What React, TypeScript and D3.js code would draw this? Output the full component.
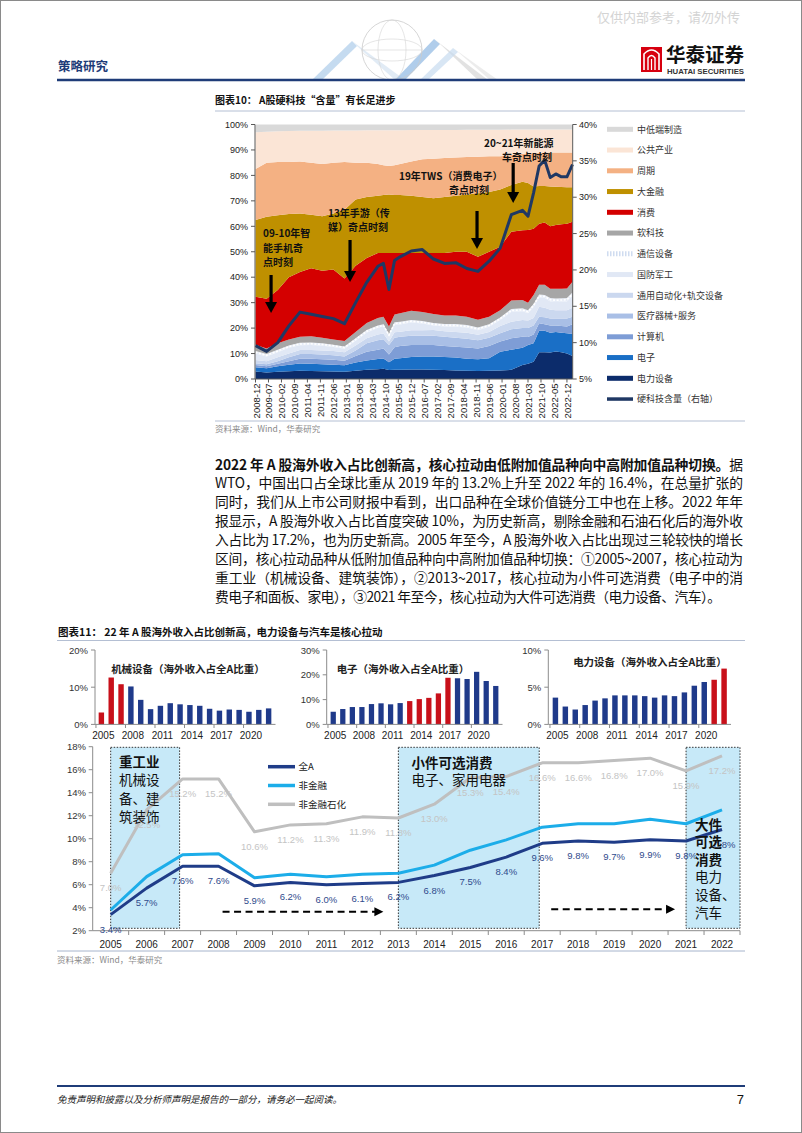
import React from "react";
import * as d3 from "d3";

const LATIN = "'Liberation Sans', Arial, 'Noto Sans CJK SC', sans-serif";
const CJK = "'Noto Sans CJK SC', 'Liberation Sans', sans-serif";

// ================= 图表10 data =================
const sampleMonths = [
  "2008-12", "2009-06", "2009-12", "2010-06", "2010-12", "2011-06", "2011-12", "2012-06", "2012-12",
  "2013-06", "2013-12", "2014-06", "2014-09", "2014-12", "2015-03", "2015-06", "2015-12", "2016-06",
  "2016-12", "2017-06", "2017-12", "2018-06", "2018-12", "2019-06", "2019-12", "2020-06", "2020-12",
  "2021-03", "2021-06", "2021-09", "2021-12", "2022-03", "2022-06", "2022-09", "2022-12", "2023-03",
];
const topTickLabels = [
  "2008-12", "2009-07", "2010-02", "2010-09", "2011-04", "2011-11", "2012-06", "2013-01", "2013-08",
  "2014-03", "2014-10", "2015-05", "2015-12", "2016-07", "2017-02", "2017-09", "2018-04", "2018-11",
  "2019-06", "2020-01", "2020-08", "2021-03", "2021-10", "2022-05", "2022-12",
];
const leftTicks = [0, 10, 20, 30, 40, 50, 60, 70, 80, 90, 100];
const rightTicks = [5, 10, 15, 20, 25, 30, 35, 40];

const powerEquip = [2.9, 2.6, 2.8, 3.0, 3.2, 3.1, 3.0, 2.9, 2.8, 3.2, 3.6, 3.8, 4.0, 3.5, 3.6, 3.6, 3.7, 3.7, 3.6, 3.5, 3.3, 3.2, 3.1, 3.2, 3.3, 3.6, 5.5, 6.0, 6.8, 10.5, 10.5, 10.4, 10.8, 10.5, 10.0, 9.0];
const electronics = [1.7, 1.6, 2.2, 2.6, 2.9, 2.9, 2.8, 2.7, 2.6, 3.3, 3.7, 4.1, 4.1, 3.1, 4.4, 4.6, 4.9, 5.1, 5.2, 5.1, 5.1, 4.8, 4.7, 5.0, 7.4, 7.9, 6.8, 7.4, 7.2, 8.5, 8.5, 7.8, 7.7, 7.7, 8.0, 8.7];
const computer = [0.9, 0.8, 1.0, 1.4, 1.9, 2.0, 2.0, 2.0, 1.8, 2.5, 3.4, 3.6, 3.9, 3.0, 4.5, 4.8, 4.8, 4.6, 4.6, 4.4, 4.3, 4.4, 4.2, 4.8, 4.0, 4.5, 4.3, 3.1, 3.5, 2.9, 2.5, 2.8, 2.5, 2.6, 2.6, 3.8];
const medical = [0.7, 0.8, 1.0, 1.5, 1.8, 1.8, 1.8, 1.7, 1.6, 2.2, 3.3, 3.7, 3.6, 3.8, 3.7, 3.6, 3.6, 3.6, 3.6, 3.6, 3.5, 3.4, 3.2, 3.2, 3.3, 3.5, 3.4, 3.5, 3.5, 2.6, 2.8, 2.8, 2.8, 3.0, 3.2, 3.0];
const automation = [1.3, 1.2, 1.5, 1.5, 1.6, 1.6, 1.6, 1.7, 1.7, 2.0, 2.0, 2.3, 2.3, 1.3, 2.2, 2.0, 2.2, 2.2, 2.3, 2.2, 2.3, 2.4, 2.2, 2.3, 2.8, 3.0, 3.2, 3.0, 3.0, 3.9, 3.7, 3.4, 3.2, 3.2, 3.2, 3.5];
const defense = [2.5, 1.8, 2.0, 2.3, 1.9, 2.0, 1.9, 1.6, 1.4, 1.8, 2.2, 2.6, 2.7, 2.1, 2.9, 2.8, 3.0, 2.6, 1.7, 1.8, 2.0, 2.0, 1.8, 2.0, 2.4, 3.8, 3.4, 2.8, 4.3, 3.6, 3.8, 3.3, 3.3, 3.4, 3.5, 4.7];
const telecom = [1.0, 1.0, 1.0, 0.9, 0.9, 0.9, 0.9, 0.9, 0.9, 1.0, 1.1, 0.9, 0.9, 0.9, 1.0, 1.1, 1.0, 1.0, 1.0, 1.0, 1.1, 1.0, 1.0, 1.0, 1.0, 1.2, 1.2, 1.2, 1.2, 1.2, 1.2, 1.3, 1.3, 1.3, 1.3, 1.3];
const software = [2.5, 2.2, 2.5, 2.3, 2.4, 2.5, 2.2, 2.0, 2.1, 2.5, 2.7, 3.0, 3.0, 2.9, 3.0, 3.3, 3.6, 3.5, 3.5, 3.4, 3.4, 3.3, 3.1, 3.0, 2.8, 3.3, 3.2, 3.0, 3.5, 3.8, 4.0, 3.7, 3.9, 3.8, 3.8, 4.2];
const consumer = [18.8, 19.5, 21.0, 24.5, 25.4, 26.7, 26.3, 27.5, 24.6, 26.0, 25.5, 25.5, 25.0, 28.9, 24.2, 23.7, 22.7, 23.2, 24.0, 24.5, 25.0, 25.5, 24.7, 25.5, 25.0, 27.1, 27.4, 28.5, 26.0, 24.0, 24.5, 24.5, 25.0, 25.3, 25.4, 23.6];
const finance = [30.2, 32.3, 29.3, 24.8, 23.0, 21.0, 21.4, 22.0, 27.0, 26.0, 24.0, 22.5, 22.8, 23.0, 22.8, 22.8, 22.5, 22.0, 21.5, 22.0, 22.0, 22.5, 25.0, 23.5, 22.5, 18.3, 19.1, 18.5, 16.6, 14.8, 14.3, 15.6, 15.0, 14.6, 14.3, 13.5];
const cyclical = [20.0, 21.2, 21.0, 20.5, 20.5, 20.5, 20.6, 20.0, 18.8, 14.5, 13.5, 12.5, 11.7, 11.2, 11.7, 12.2, 13.5, 14.8, 15.5, 15.3, 15.0, 14.7, 14.3, 14.0, 13.0, 11.8, 11.0, 11.6, 13.1, 13.1, 13.2, 13.4, 13.5, 13.6, 13.7, 13.7];
const utilities = [14.5, 12.2, 12.0, 12.1, 12.0, 12.5, 13.0, 12.6, 12.3, 12.6, 12.7, 13.2, 13.7, 14.0, 13.7, 13.2, 12.3, 11.5, 11.3, 11.0, 10.8, 10.7, 10.6, 10.4, 10.4, 10.0, 9.5, 9.4, 9.3, 9.1, 9.0, 9.0, 9.0, 9.0, 9.0, 9.0];
const lowEndMfg = [3.0, 2.8, 2.7, 2.6, 2.5, 2.5, 2.5, 2.4, 2.4, 2.4, 2.3, 2.3, 2.3, 2.3, 2.3, 2.3, 2.2, 2.2, 2.2, 2.2, 2.2, 2.1, 2.1, 2.1, 2.1, 2.0, 2.0, 2.0, 2.0, 2.0, 2.0, 2.0, 2.0, 2.0, 2.0, 2.0];
const hardTechShare = [9.6, 8.8, 10.0, 12.3, 14.2, 13.9, 13.6, 13.3, 12.6, 15.5, 18.3, 20.5, 20.9, 17.3, 21.3, 21.8, 22.6, 22.8, 21.5, 20.9, 21.0, 20.2, 19.8, 21.2, 23.0, 27.6, 28.2, 27.4, 30.6, 34.3, 35.1, 32.7, 33.2, 32.8, 32.8, 34.5];

const sectorSeries = [
  { name: "电力设备", color: "#0c2c6b", values: powerEquip },
  { name: "电子", color: "#1a6fc6", values: electronics },
  { name: "计算机", color: "#7e9dd6", values: computer },
  { name: "医疗器械+服务", color: "#a9bfe6", values: medical },
  { name: "通用自动化+轨交设备", color: "#cbd8ef", values: automation },
  { name: "国防军工", color: "#e1e8f5", values: defense },
  { name: "通信设备", color: "#e6ecf7", values: telecom },
  { name: "软科技", color: "#a6a6a6", values: software },
  { name: "消费", color: "#d40000", values: consumer },
  { name: "大金融", color: "#bf9000", values: finance },
  { name: "周期", color: "#f4b183", values: cyclical },
  { name: "公共产业", color: "#fbe5d6", values: utilities },
  { name: "中低端制造", color: "#d9d9d9", values: lowEndMfg },
];

// ================= 图表11 data =================
const years = ["2005", "2006", "2007", "2008", "2009", "2010", "2011", "2012", "2013", "2014", "2015", "2016", "2017", "2018", "2019", "2020", "2021", "2022"];
const smallTickYears = ["2005", "2008", "2011", "2014", "2017", "2020"];
const machineryShare = [3.2, 12.6, 10.8, 10.2, 6.6, 4.1, 5.0, 5.7, 5.4, 5.2, 5.0, 4.2, 3.7, 4.0, 3.9, 3.4, 3.9, 4.3];
const machineryRed = ["2005", "2006", "2007"];
const electronicsShare = [5.1, 6.2, 7.0, 7.0, 8.2, 8.5, 8.1, 8.6, 9.4, 10.2, 10.7, 12.5, 18.8, 18.6, 18.3, 21.2, 17.5, 15.5];
const electronicsRed = ["2013", "2014", "2015", "2016", "2017"];
const powerShare = [3.6, 2.4, 2.0, 2.6, 3.2, 3.5, 3.9, 3.9, 3.9, 3.8, 3.6, 3.9, 3.8, 4.3, 5.2, 5.7, 6.0, 7.5];
const powerRed = ["2021", "2022"];

const allA = [3.4, 5.7, 7.6, 7.6, 5.9, 6.2, 6.0, 6.1, 6.2, 6.8, 7.5, 8.4, 9.6, 9.8, 9.7, 9.9, 9.8, 10.8];
const nonFinancial = [3.8, 6.7, 8.6, 8.7, 6.6, 6.9, 6.7, 6.9, 7.0, 7.7, 9.0, 9.9, 11.0, 11.3, 11.3, 11.7, 11.3, 12.5];
const nonFinPetro = [7.0, 12.5, 15.2, 15.2, 10.6, 11.2, 11.3, 11.9, 11.8, 13.0, 15.3, 15.4, 16.6, 16.6, 16.8, 17.0, 15.9, 17.2];
const bottomTicks = [2, 4, 6, 8, 10, 12, 14, 16, 18];

const paragraphLines = [
  "WTO，中国出口占全球比重从 2019 年的 13.2%上升至 2022 年的 16.4%，在总量扩张的",
  "同时，我们从上市公司财报中看到，出口品种在全球价值链分工中也在上移。2022 年年",
  "报显示，A 股海外收入占比首度突破 10%，为历史新高，剔除金融和石油石化后的海外收",
  "入占比为 17.2%，也为历史新高。2005 年至今，A 股海外收入占比出现过三轮较快的增长",
  "区间，核心拉动品种从低附加值品种向中高附加值品种切换：①2005~2007，核心拉动为",
  "重工业（机械设备、建筑装饰），②2013~2017，核心拉动为小件可选消费（电子中的消",
  "费电子和面板、家电），③2021 年至今，核心拉动为大件可选消费（电力设备、汽车）。",
];

const monthIndex = (s: string) => {
  const [y, m] = s.split("-").map(Number);
  return (y - 2008) * 12 + (m - 12);
};

function DownArrow({ x, y1, y2 }: { x: number; y1: number; y2: number }) {
  return (
    <g>
      <line x1={x} y1={y1} x2={x} y2={y2 - 9} stroke="#000" strokeWidth={3.2} />
      <path d={`M${x - 6},${y2 - 11}L${x + 6},${y2 - 11}L${x},${y2}Z`} fill="#000" />
    </g>
  );
}

function SmallBars(props: {
  left: number; right: number; axisX: number; values: number[]; max: number; ticks: number[];
  red: string[]; title: string; titleX: number; titleY: number;
}) {
  const { left, right, axisX, values, max, ticks, red, title, titleX, titleY } = props;
  const x = d3.scaleBand<string>().domain(years).range([left, right]).paddingInner(0.45).paddingOuter(0.22);
  const y = d3.scaleLinear().domain([0, max]).range([724.4, 650]);
  const step = x.step();
  return (
    <g>
      {values.map((v, i) => (
        <rect key={i} x={x(years[i])!} y={y(v)} width={x.bandwidth()} height={y(0) - y(v)}
          fill={red.includes(years[i]) ? "#c8101a" : "#1f3a8a"} />
      ))}
      <line x1={axisX} y1={650} x2={axisX} y2={724.4} stroke="#8c8c8c" strokeWidth={1} />
      <line x1={axisX} y1={724.4} x2={right + 2} y2={724.4} stroke="#8c8c8c" strokeWidth={1} />
      {ticks.map((t) => (
        <g key={t}>
          <line x1={axisX - 4} x2={axisX} y1={y(t)} y2={y(t)} stroke="#8c8c8c" />
          <text x={axisX - 7} y={y(t) + 3.5} textAnchor="end" fontSize={9.5} fontFamily={LATIN} fill="#333">{t}%</text>
        </g>
      ))}
      {smallTickYears.map((yr) => (
        <g key={yr}>
          <line x1={x(yr)! - step * 0.275} x2={x(yr)! - step * 0.275} y1={724.4} y2={728} stroke="#8c8c8c" />
          <text x={x(yr)! + x.bandwidth() / 2 + 2} y={738.5} textAnchor="middle" fontSize={10} fontFamily={LATIN} fill="#222">{yr}</text>
        </g>
      ))}
      <text x={titleX} y={titleY} textAnchor="middle" fontSize={10.5} fontWeight={700} fontFamily={CJK} fill="#222">{title}</text>
    </g>
  );
}

export default function App() {
  // ---------- chart 10 ----------
  const xTop = d3.scaleLinear().domain([0, 171]).range([255.5, 572.5]);
  const yTop = d3.scaleLinear().domain([0, 100]).range([379, 124.5]);
  const yTopR = d3.scaleLinear().domain([5, 40]).range([379, 124.5]);
  const rows = sampleMonths.map((m, i) => {
    const r: any = { idx: monthIndex(m) };
    sectorSeries.forEach((s) => (r[s.name] = s.values[i]));
    return r;
  });
  const stacked = d3.stack<any>().keys(sectorSeries.map((s) => s.name))(rows);
  const area = d3.area<any>().x((d) => xTop(d.data.idx)).y0((d) => yTop(d[0])).y1((d) => yTop(d[1]));
  const midLine = d3.line<any>().x((d) => xTop(d.data.idx)).y((d) => yTop((d[0] + d[1]) / 2));
  const hardLine = d3.line<number>().x((_, i) => xTop(monthIndex(sampleMonths[i]))).y((d) => yTopR(d));
  const telecomLayer = stacked[sectorSeries.findIndex((s) => s.name === "通信设备")];

  const legendItems = [...sectorSeries].reverse();

  // ---------- chart 11 bottom ----------
  const xB = d3.scaleBand<string>().domain(years).range([92.7, 740]);
  const cx = (yr: string) => xB(yr)! + xB.bandwidth() / 2;
  const yB = d3.scaleLinear().domain([2, 18]).range([930.7, 746.7]);
  const bLine = d3.line<number>().x((_, i) => cx(years[i])).y((d) => yB(d));
  const boxes = [
    { from: "2005", to: "2007" },
    { from: "2013", to: "2017" },
    { from: "2021", to: "" },
  ];
  const boxX = (b: { from: string; to: string }) => [cx(b.from), b.to ? cx(b.to) - 3 : 740];

  return (
    <div style={{ position: "absolute", left: 0, top: 0 }}>
      <svg width={802} height={1133} style={{ display: "block", background: "#fff" }}>
        <rect x={0.5} y={0.5} width={801} height={1132} fill="#fff" stroke="#8a8a8a" />

        {/* ===== header ===== */}
        <text x={740} y={22} textAnchor="end" fontSize={13} fontFamily={CJK} fill="#d4d4d4">仅供内部参考，请勿外传</text>
        <g>
          <polygon points="312,80 322,80 357,46 352,41" fill="#b7d2ec" opacity={0.8} />
          <polygon points="352,41 357,46 395,80 405,80" fill="#d9e6f3" opacity={0.8} />
          <polygon points="395,80 405,80 440,44 434,39" fill="#9cc1e6" opacity={0.8} />
          <polygon points="434,39 440,44 478,80 488,80" fill="#cfcfcf" opacity={0.6} />
          <polygon points="420,80 428,80 458,52 453,48" fill="#c7dcf0" opacity={0.7} />
          <polygon points="453,48 458,52 490,80 498,80" fill="#e0e0e0" opacity={0.6} />
          <circle cx={392} cy={50} r={30} fill="none" stroke="#cacaca" strokeWidth={0.8} />
          <ellipse cx={392} cy={50} rx={14} ry={30} fill="none" stroke="#d4d4d4" strokeWidth={0.6} />
          <ellipse cx={392} cy={50} rx={30} ry={11} fill="none" stroke="#d4d4d4" strokeWidth={0.6} />
          <line x1={362} y1={50} x2={422} y2={50} stroke="#d4d4d4" strokeWidth={0.6} />
        </g>
        <text x={58} y={71} fontSize={12.5} fontWeight={700} fontFamily={CJK} fill="#1f3c78">策略研究</text>
        <g>
          <rect x={641} y={47} width={21} height={25} fill="#d7000f" />
          <path d="M644,70 L644,54 Q651.5,46 659,54 L659,70" fill="none" stroke="#fff" strokeWidth={1.6} />
          <path d="M648,70 L648,58 Q651.5,53 655,58 L655,70" fill="none" stroke="#fff" strokeWidth={1.4} />
          <line x1={651.5} y1={59} x2={651.5} y2={70} stroke="#fff" strokeWidth={1.2} />
          <text x={666} y={62} fontSize={19.5} fontWeight={700} fontFamily={CJK} fill="#111">华泰证券</text>
          <text x={667} y={73.5} fontSize={7} fontWeight={700} fontFamily={LATIN} fill="#333" textLength={77} lengthAdjust="spacingAndGlyphs">HUATAI SECURITIES</text>
        </g>
        <line x1={57} y1={80} x2={745} y2={80} stroke="#1f3c78" strokeWidth={2.5} />

        {/* ===== 图表10 ===== */}
        <text x={215} y={104} fontSize={10} fontWeight={700} fontFamily={CJK} fill="#111">图表10：  A股硬科技“含量”有长足进步</text>
        <line x1={215} y1={111} x2={745} y2={111} stroke="#b4bfd3" strokeWidth={1} />

        {stacked.map((layer, i) => (
          <path key={i} d={area(layer) || ""} fill={sectorSeries[i].color} />
        ))}
        <path d={midLine(telecomLayer) || ""} fill="none" stroke="#fff" strokeWidth={1.6} strokeDasharray="2,1.6" />
        <path d={hardLine(hardTechShare) || ""} fill="none" stroke="#1f3864" strokeWidth={3} strokeLinejoin="round" />

        {/* axes */}
        <line x1={255} y1={124.5} x2={255} y2={379} stroke="#595959" />
        <line x1={572.7} y1={124.5} x2={572.7} y2={379} stroke="#595959" />
        <line x1={255} y1={379} x2={572.7} y2={379} stroke="#595959" />
        {leftTicks.map((t) => (
          <g key={t}>
            <line x1={251} x2={255} y1={yTop(t)} y2={yTop(t)} stroke="#595959" />
            <text x={248} y={yTop(t) + 3.2} textAnchor="end" fontSize={9} fontFamily={LATIN} fill="#222">{t}%</text>
          </g>
        ))}
        {rightTicks.map((t) => (
          <g key={t}>
            <line x1={572.7} x2={576.7} y1={yTopR(t)} y2={yTopR(t)} stroke="#595959" />
            <text x={579} y={yTopR(t) + 3.2} fontSize={9} fontFamily={LATIN} fill="#222">{t}%</text>
          </g>
        ))}
        {topTickLabels.map((lab) => {
          const x = xTop(monthIndex(lab));
          return (
            <g key={lab}>
              <line x1={x} x2={x} y1={379} y2={382.5} stroke="#595959" />
              <text transform={`translate(${x + 0.5},${383.5}) rotate(-90)`} textAnchor="end" dominantBaseline="central" fontSize={9.5} fontFamily={LATIN} fill="#222">{lab}</text>
            </g>
          );
        })}

        {/* annotations */}
        <g fontFamily={CJK} fontWeight={700} fontSize={10} fill="#111">
          <text x={263} y={236.5}>09-10年智</text>
          <text x={263} y={251.5}>能手机奇</text>
          <text x={263} y={266}>点时刻</text>
          <text x={328} y={216.5}>13年手游（传</text>
          <text x={328} y={230.5}>媒）奇点时刻</text>
          <text x={399} y={179.5}>19年TWS（消费电子）</text>
          <text x={449} y={193.5}>奇点时刻</text>
          <text x={484} y={146.5}>20~21年新能源</text>
          <text x={502} y={160.5}>车奇点时刻</text>
        </g>
        <DownArrow x={xTop(8.4)} y1={275} y2={313} />
        <DownArrow x={xTop(51)} y1={240} y2={282} />
        <DownArrow x={xTop(119.5)} y1={211} y2={249} />
        <DownArrow x={xTop(139)} y1={163} y2={203} />

        {/* legend */}
        {legendItems.map((s, i) => {
          const y = 129.3 + i * 20.75;
          return (
            <g key={s.name}>
              {s.name === "通信设备" ? (
                <line x1={607} x2={633} y1={y} y2={y} stroke="#cfdcf0" strokeWidth={5} strokeDasharray="1.5,1.5" />
              ) : (
                <rect x={607} y={y - 2.5} width={26} height={5} fill={s.color} />
              )}
              <text x={637} y={y + 3.3} fontSize={9} fontFamily={CJK} fill="#333">{s.name}</text>
            </g>
          );
        })}
        <line x1={607} x2={633} y1={129.3 + 13 * 20.75} y2={129.3 + 13 * 20.75} stroke="#1f3864" strokeWidth={3.5} />
        <text x={637} y={129.3 + 13 * 20.75 + 3.3} fontSize={9} fontFamily={CJK} fill="#333">硬科技含量（右轴）</text>

        <line x1={215} y1={421} x2={745} y2={421} stroke="#b4bfd3" strokeWidth={1} />
        <text x={215} y={432} fontSize={8.5} fontFamily={CJK} fill="#8a8a8a">资料来源：Wind，华泰研究</text>

        {/* ===== paragraph ===== */}
        <text x={215} y={469.5} fontSize={13.8} fontFamily={CJK} fill="#111" textLength={528} lengthAdjust="spacing">
          <tspan fontWeight={700}>2022 年 A 股海外收入占比创新高，核心拉动由低附加值品种向中高附加值品种切换。</tspan>
          <tspan>据</tspan>
        </text>
        {paragraphLines.map((ln, i) => (
          <text key={i} x={215} y={469.5 + (i + 1) * 18.9} fontSize={13.8} fontFamily={CJK} fill="#111"
            textLength={i < paragraphLines.length - 1 ? 528 : 506} lengthAdjust="spacing">{ln}</text>
        ))}

        {/* ===== 图表11 ===== */}
        <text x={58} y={636} fontSize={10.5} fontWeight={700} fontFamily={CJK} fill="#111">图表11：  22 年 A 股海外收入占比创新高，电力设备与汽车是核心拉动</text>
        <line x1={57} y1={640.5} x2={745} y2={640.5} stroke="#b4bfd3" strokeWidth={1} />

        <SmallBars left={96.5} right={273.5} axisX={95} values={machineryShare} max={20} ticks={[0, 10, 20]}
          red={machineryRed} title="机械设备（海外收入占全A比重）" titleX={188} titleY={673} />
        <SmallBars left={328.5} right={500.5} axisX={326.7} values={electronicsShare} max={30} ticks={[0, 10, 20, 30]}
          red={electronicsRed} title="电子（海外收入占全A比重）" titleX={403} titleY={673} />
        <SmallBars left={550.5} right={729} axisX={548.3} values={powerShare} max={10} ticks={[0, 5, 10]}
          red={powerRed} title="电力设备（海外收入占全A比重）" titleX={650} titleY={665.5} />

        {/* bottom chart boxes */}
        {boxes.map((b, i) => {
          const [x0, x1] = boxX(b);
          return <rect key={i} x={x0} y={747.3} width={x1 - x0} height={928.3 - 747.3} fill="#c7e9f8" stroke="#333" strokeWidth={1} strokeDasharray="1.5,1.5" />;
        })}

        {/* axes */}
        <line x1={92.7} y1={746.7} x2={92.7} y2={930.7} stroke="#8c8c8c" />
        <line x1={92.7} y1={930.7} x2={740} y2={930.7} stroke="#8c8c8c" />
        {bottomTicks.map((t) => (
          <g key={t}>
            <line x1={88.7} x2={92.7} y1={yB(t)} y2={yB(t)} stroke="#8c8c8c" />
            <text x={86} y={yB(t) + 3.5} textAnchor="end" fontSize={9.5} fontFamily={LATIN} fill="#333">{t}%</text>
          </g>
        ))}
        {years.map((yr) => (
          <g key={yr}>
            <line x1={xB(yr)! + xB.bandwidth()} x2={xB(yr)! + xB.bandwidth()} y1={930.7} y2={935} stroke="#8c8c8c" />
            <text x={cx(yr)} y={947.5} textAnchor="middle" fontSize={10} fontFamily={LATIN} fill="#222">{yr}</text>
          </g>
        ))}

        {/* lines */}
        <path d={bLine(nonFinPetro) || ""} fill="none" stroke="#bfbfbf" strokeWidth={3} strokeLinejoin="round" />
        <path d={bLine(nonFinancial) || ""} fill="none" stroke="#1cade9" strokeWidth={3} strokeLinejoin="round" />
        <path d={bLine(allA) || ""} fill="none" stroke="#1f3c88" strokeWidth={3} strokeLinejoin="round" />
        {nonFinPetro.map((v, i) => (
          <text key={"p" + i} x={cx(years[i])} y={yB(v) + 18} textAnchor="middle" fontSize={9.5} fontFamily={LATIN} fill="#c4c4c4">{v.toFixed(1)}%</text>
        ))}
        {allA.map((v, i) => (
          <text key={"a" + i} x={cx(years[i])} y={yB(v) + 18} textAnchor="middle" fontSize={9.5} fontFamily={LATIN} fill="#2f4b8c">{v.toFixed(1)}%</text>
        ))}

        {/* legend */}
        {[
          { name: "全A", color: "#1f3c88" },
          { name: "非金融", color: "#1cade9" },
          { name: "非金融石化", color: "#bfbfbf" },
        ].map((l, i) => (
          <g key={l.name}>
            <line x1={268} x2={295} y1={766.7 + i * 18.8} y2={766.7 + i * 18.8} stroke={l.color} strokeWidth={3.5} />
            <text x={298.5} y={770 + i * 18.8} fontSize={9.5} fontFamily={CJK} fill="#222">{l.name}</text>
          </g>
        ))}

        {/* dashed arrows */}
        {[
          { from: "2008", to: "2013", v: 3.65, d0: 4, d1: -15 },
          { from: "2017", to: "2021", v: 3.86, d0: 9, d1: -11 },
        ].map((a, i) => {
          const x0 = cx(a.from) + a.d0;
          const x1 = cx(a.to) + a.d1;
          const y = yB(a.v);
          return (
            <g key={i}>
              <line x1={x0} x2={x1 - 8} y1={y} y2={y} stroke="#000" strokeWidth={2} strokeDasharray="7,4.5" />
              <path d={`M${x1 - 9},${y - 4.5}L${x1},${y}L${x1 - 9},${y + 4.5}Z`} fill="#000" />
            </g>
          );
        })}

        {/* box texts */}
        <g fontFamily={CJK} fontSize={13.5} fill="#111">
          <text x={119} y={766.5} fontWeight={700}>重工业</text>
          <text x={119} y={785}>机械设</text>
          <text x={119} y={804}>备、建</text>
          <text x={119} y={822}>筑装饰</text>
          <text x={411.5} y={767.5} fontWeight={700}>小件可选消费</text>
          <text x={411.5} y={784.5}>电子、家用电器</text>
          <text x={695} y={830} fontWeight={700}>大件</text>
          <text x={695} y={847} fontWeight={700}>可选</text>
          <text x={695} y={864.5} fontWeight={700}>消费</text>
          <text x={695} y={882}>电力</text>
          <text x={695} y={900}>设备、</text>
          <text x={695} y={918}>汽车</text>
        </g>

        <line x1={57} y1={951} x2={745} y2={951} stroke="#a6b4cc" strokeWidth={1} />
        <text x={57} y={963} fontSize={8.5} fontFamily={CJK} fill="#8a8a8a">资料来源：Wind，华泰研究</text>

        {/* ===== footer ===== */}
        <line x1={57} y1={1086} x2={745} y2={1086} stroke="#1f3c78" strokeWidth={2} />
        <text x={57} y={1103} fontSize={9.5} fontStyle="italic" fontFamily={CJK} fill="#222">免责声明和披露以及分析师声明是报告的一部分，请务必一起阅读。</text>
        <text x={744} y={1104} textAnchor="end" fontSize={13} fontFamily={LATIN} fill="#111">7</text>
      </svg>
    </div>
  );
}
